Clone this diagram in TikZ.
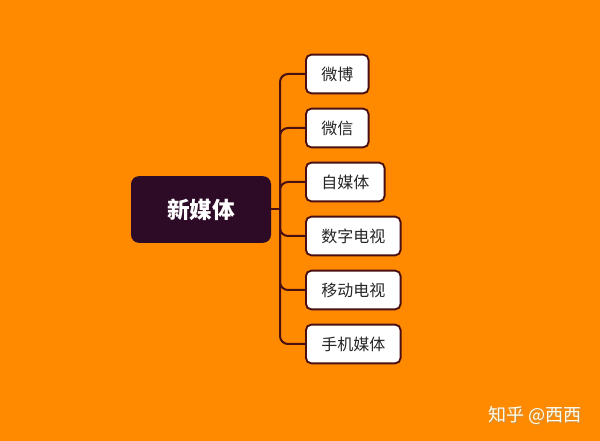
\documentclass[tikz,border=0pt]{standalone}
\usepackage{fontspec}
\setmainfont{Noto Sans CJK SC}
\definecolor{bg}{HTML}{FF8A00}
\definecolor{rootfill}{HTML}{2D0A26}
\definecolor{linec}{HTML}{4A0F12}
\begin{document}
\begin{tikzpicture}[x=0.75pt,y=-0.75pt,
  rootbox/.style={draw=none,fill=rootfill,rounded corners=6pt,minimum width=105pt,minimum height=50pt,text=white,font=\fontsize{17}{20}\selectfont\bfseries},
  childbox/.style={draw=linec,line width=1.4pt,fill=white,rounded corners=4pt,minimum height=29pt,inner xsep=11.5pt,anchor=west,text=black!85,font=\fontsize{12}{14}\selectfont},
  conn/.style={draw=linec,line width=1.5pt,rounded corners=6pt},
  wmark/.style={text=white!92!yellow,font=\fontsize{13.5}{16}\selectfont}
]
\fill[bg] (0,0) rectangle (600,441);
\node[rootbox] (root) at (201,209.5) {新媒体};
\coordinate (j) at (280,209.5);
\node[childbox] (c1) at (305,74) {微博};
\node[childbox] (c2) at (305,128) {微信};
\node[childbox] (c3) at (305,182) {自媒体};
\node[childbox] (c4) at (305,236) {数字电视};
\node[childbox] (c5) at (305,290) {移动电视};
\node[childbox] (c6) at (305,344) {手机媒体};
\draw[conn] (root.east) -- (j);
\foreach \c in {c1,c2,c3,c4,c5,c6} \draw[conn] (j) |- (\c.west);
\node[wmark,text=black!40,opacity=0.5] (wms) at (536,416) {知乎 @西西};
\node[wmark] (wm) at (535,415) {知乎 @西西};
\end{tikzpicture}
\end{document}
